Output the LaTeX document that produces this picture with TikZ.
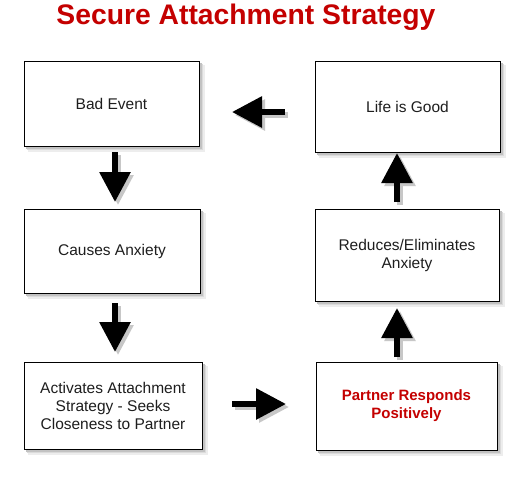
\documentclass[tikz,border=0pt]{standalone}
\usepackage{fontspec}
\setmainfont{Liberation Sans}
\usetikzlibrary{arrows.meta}
\definecolor{titlered}{RGB}{196,0,0}
\definecolor{boxtext}{RGB}{30,30,30}
\tikzset{
  box/.style={draw=black, line width=0.9pt, fill=white, minimum width=#1, inner sep=0pt,
    align=center, font=\fontsize{15.5}{18}\selectfont, text=boxtext},
  barrow/.style={line width=6pt, -{Triangle[length=30pt,width=30pt]}},
  ashadow/.style={barrow, draw=black!22}
}
\begin{document}
\begin{tikzpicture}[x=1pt,y=-1pt]
\useasboundingbox[fill=white] (0,0) rectangle (531,491);
% box shadows (drawn first, boxes cover them)
\foreach \cx/\cy/\w/\h in {111.5/103.5/175/85, 112/251/176/84, 113/405.5/178/87, 406.5/406/181/88, 407/255/184/92, 407.5/106.5/185/91}{
  \fill[black!7]  (\cx-\w/2+4,\cy-\h/2+4) rectangle (\cx+\w/2+5.5,\cy+\h/2+5.5);
  \fill[black!14] (\cx-\w/2+3,\cy-\h/2+3) rectangle (\cx+\w/2+4,\cy+\h/2+4);
  \fill[black!24] (\cx-\w/2+2,\cy-\h/2+2) rectangle (\cx+\w/2+2.5,\cy+\h/2+2.5);
}

\node[font=\bfseries\fontsize{28.3}{32}\selectfont, text=titlered] (title) at (246,17) {Secure Attachment Strategy};

\node[box=175pt, minimum height=85pt] (bad) at (111.5,103.5) {Bad Event};
\node[box=176pt, minimum height=84pt] (causes) at (112,251) {Causes Anxiety};
\node[box=178pt, minimum height=87pt] (act) at (113,405.5) {Activates Attachment\\Strategy - Seeks\\Closeness to Partner};
\node[box=181pt, minimum height=88pt, font=\bfseries\fontsize{15}{18}\selectfont, text=titlered] (partner) at (406.5,406) {Partner Responds\\Positively};
\node[box=184pt, minimum height=92pt] (reduces) at (407,255) {Reduces/Eliminates\\Anxiety};
\node[box=185pt, minimum height=91pt] (life) at (407.5,106.5) {Life is Good};

\coordinate (a1s) at (115,152); \coordinate (a1e) at (115,202);
\coordinate (a2s) at (115,303); \coordinate (a2e) at (115,352);
\coordinate (a3s) at (232,404); \coordinate (a3e) at (286,404);
\coordinate (a4s) at (397,357); \coordinate (a4e) at (397,308);
\coordinate (a5s) at (397,202); \coordinate (a5e) at (397,153);
\coordinate (a6s) at (285,112); \coordinate (a6e) at (232,112);

\foreach \s/\e in {a1s/a1e,a2s/a2e,a3s/a3e,a4s/a4e,a5s/a5e,a6s/a6e}{
  \draw[ashadow] ([shift={(3,3)}]\s) -- ([shift={(3,3)}]\e);
}

\draw[barrow] (a1s) -- (a1e);
\draw[barrow] (a2s) -- (a2e);
\draw[barrow] (a3s) -- (a3e);
\draw[barrow] (a4s) -- (a4e);
\draw[barrow] (a5s) -- (a5e);
\draw[barrow] (a6s) -- (a6e);
\end{tikzpicture}
\end{document}
